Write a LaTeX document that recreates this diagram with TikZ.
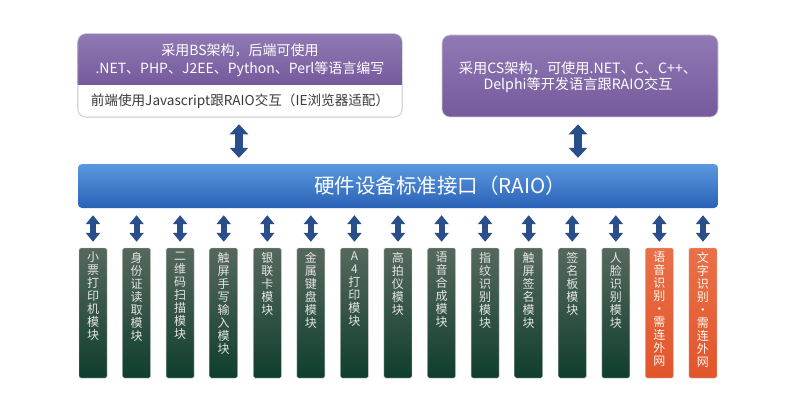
\documentclass[tikz,border=0pt]{standalone}
\usepackage{fontspec}
\setmainfont{Noto Sans CJK SC}
\usetikzlibrary{arrows.meta,calc}
\definecolor{arrowblue}{HTML}{2A4E8A}
\definecolor{purpletop}{HTML}{9079B4}
\definecolor{purplebot}{HTML}{755A9C}
\definecolor{bluetop}{HTML}{5A98E0}
\definecolor{bluebot}{HTML}{2A62B6}
\definecolor{greentop}{HTML}{56685E}
\definecolor{greenbot}{HTML}{0F3E2D}
\definecolor{orangetop}{HTML}{EA7049}
\definecolor{orangebot}{HTML}{E2552B}
\definecolor{textgray}{HTML}{3A3A3A}
\newcommand\vt[1]{\parbox[t][122pt][t]{24pt}{\centering\fontsize{12}{13}\selectfont\expandafter\vtx#1\relax}}
\def\vtx#1{\ifx\relax#1\else\par#1\expandafter\vtx\fi}
\begin{document}
\begin{tikzpicture}[x=1pt,y=-1pt,
  topbox/.style={draw=black!18, line width=0.6pt, rounded corners=8pt, minimum width=324pt, minimum height=83pt, inner sep=0pt, fill=white},
  purplebox/.style={draw=black!18, line width=0.6pt, rounded corners=8pt, top color=purpletop, bottom color=purplebot, minimum width=276pt, minimum height=82pt, inner sep=0pt},
  barbox/.style={rounded corners=4pt, top color=bluetop, bottom color=bluebot, minimum width=640pt, minimum height=44pt, inner sep=0pt},
  mod/.style={rounded corners=1.5pt, draw=black!20, line width=0.4pt, minimum width=28pt, minimum height=130pt, inner xsep=0pt, inner ysep=4pt, text=white!90!black},
  gmod/.style={mod, top color=greentop, bottom color=greenbot},
  omod/.style={mod, top color=orangetop, bottom color=orangebot, text=white!95!orange},
  bigarrow/.style={arrowblue, line width=8pt, {Triangle[width=18pt,length=10pt]}-{Triangle[width=18pt,length=10pt]}, shorten <=7pt, shorten >=6pt},
  smallarrow/.style={arrowblue, line width=6pt, {Triangle[width=14pt,length=9pt]}-{Triangle[width=14pt,length=9pt]}, shorten <=7pt, shorten >=6pt},
  wtext/.style={text=white, font=\fontsize{14}{17.6}\selectfont, align=center}
]
\useasboundingbox[fill=white] (0,0) rectangle (800,417);

% top-left box
\node[topbox] (tl) at (240,75.5) {};
\begin{scope}
  \clip[rounded corners=8pt] (tl.north west) rectangle (tl.south east);
  \path[top color=purpletop, bottom color=purplebot] (tl.north west) rectangle (tl.east |- 0,85);
\end{scope}
\draw[black!18, line width=0.6pt, rounded corners=8pt] (tl.north west) rectangle (tl.south east);
\node[wtext] (tla) at (240,60.5) {采用BS架构，后端可使用\\.NET、PHP、J2EE、Python、Perl等语言编写};
\node[text=textgray, font=\fontsize{13.6}{16}\selectfont] (tlb) at (240,101.5) {前端使用Javascript跟RAIO交互（IE浏览器适配）};

% top-right box
\node[purplebox] (tr) at (580,76) {};
\node[wtext, font=\fontsize{14.2}{16.5}\selectfont] (tra) at (578,77) {采用CS架构，可使用.NET、C、C++、\\Delphi等开发语言跟RAIO交互};

% bar
\node[barbox] (bar) at (398,186) {};
\node[text=white, font=\fontsize{20.5}{24}\selectfont] (bart) at (440,185.5) {硬件设备标准接口（RAIO）};

\draw[bigarrow] (tl.south -| 239,0) -- (bar.north -| 239,0);
\draw[bigarrow] (tr.south -| 578,0) -- (bar.north -| 578,0);

% modules
\foreach \i/\t/\s in {
  1/小票打印机模块/gmod,
  2/身份证读取模块/gmod,
  3/二维码扫描模块/gmod,
  4/触屏手写输入模块/gmod,
  5/银联卡模块/gmod,
  6/金属键盘模块/gmod,
  7/A4打印模块/gmod,
  8/高拍仪模块/gmod,
  9/语音合成模块/gmod,
  10/指纹识别模块/gmod,
  11/触屏签名模块/gmod,
  12/签名板模块/gmod,
  13/人脸识别模块/gmod,
  14/语音识别·需连外网/omod,
  15/文字识别·需连外网/omod}{
  \node[\s] (m\i) at ({93+43.57*(\i-1)},313) {\vt{\t}};
  \draw[smallarrow] (bar.south -| m\i.north) -- (m\i.north);
}
\end{tikzpicture}
\end{document}
